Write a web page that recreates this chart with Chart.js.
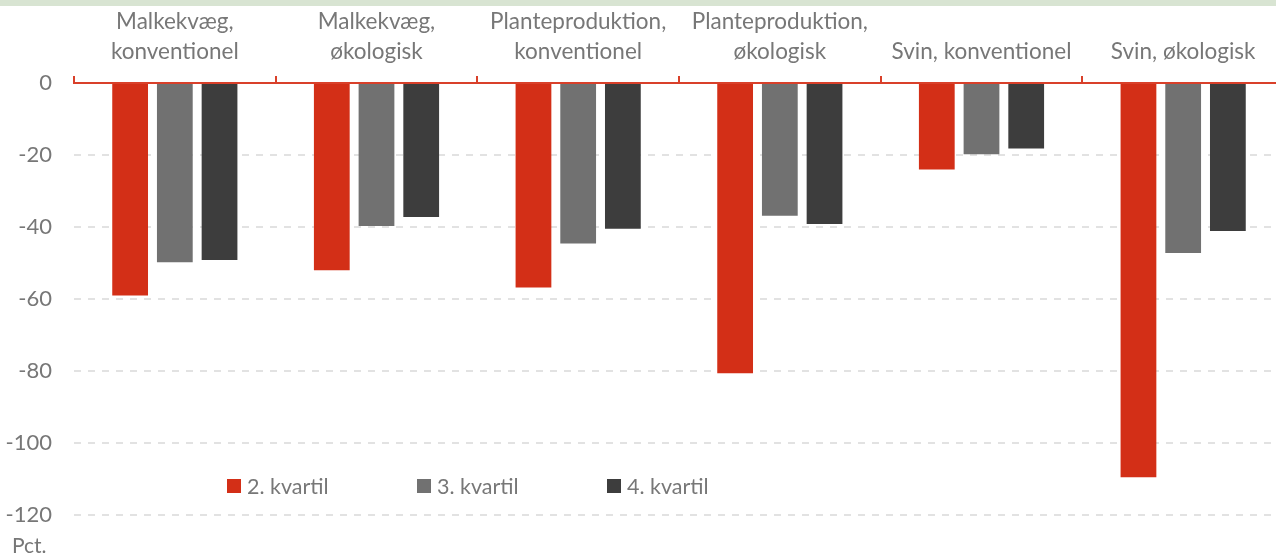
<!DOCTYPE html>
<html lang="da">

<head>
    <meta charset="UTF-8">
    <title>Kvartiler</title>
    <script src="https://cdn.jsdelivr.net/npm/chart.js"></script>

    <style>
        body {
            margin: 0;
            width: 1276px;
            height: 558px;
            overflow: hidden;
            background: #ffffff;
            font-family: "Lato", sans-serif;
            color: #777777;
            position: relative;
        }

        #band {
            position: absolute;
            left: 0;
            top: 0;
            width: 1276px;
            height: 6px;
            background: #d8e4d2;
            z-index: 2;
        }

        #chart-box {
            position: absolute;
            left: 0;
            top: 0;
            width: 1290px;
            height: 558px;
        }

        #legend {
            position: absolute;
            top: 473px;
            left: 227px;
            display: flex;
            font-size: 21.5px;
        }

        #legend .item {
            display: flex;
            align-items: center;
            width: 190px;
        }

        #legend .box {
            width: 14px;
            height: 14px;
            margin-right: 6px;
        }

        #unit {
            position: absolute;
            left: 12px;
            top: 532px;
            font-size: 21px;
        }
    </style>
</head>

<body>
    <div id="band"></div>
    <div id="chart-box">
        <canvas id="chart"></canvas>
    </div>
    <div id="legend"></div>
    <div id="unit">Pct.</div>

    <script>
        const categories = [
            ["Malkekvæg,", "konventionel"],
            ["Malkekvæg,", "økologisk"],
            ["Planteproduktion,", "konventionel"],
            ["Planteproduktion,", "økologisk"],
            "Svin, konventionel",
            "Svin, økologisk"
        ];
        const seriesNames = ["2. kvartil", "3. kvartil", "4. kvartil"];
        const seriesColors = ["#d32f17", "#717171", "#3d3d3d"];

        const kvartil2 = [-59.0, -52.0, -56.8, -80.6, -24.0, -109.5];
        const kvartil3 = [-49.8, -39.7, -44.6, -36.9, -19.8, -47.2];
        const kvartil4 = [-49.2, -37.2, -40.5, -39.2, -18.2, -41.1];

        const yMin = -120;
        const yMax = 0;
        const yStep = 20;

        const axisRed = "#d9402a";
        const textGrey = "#777777";

        const values = [kvartil2, kvartil3, kvartil4];

        const chart = new Chart(document.getElementById("chart"), {
            type: "bar",
            data: {
                labels: categories,
                datasets: values.map((data, i) => ({
                    label: seriesNames[i],
                    data: data,
                    backgroundColor: seriesColors[i],
                    barPercentage: 0.8,
                    categoryPercentage: 0.665
                }))
            },
            options: {
                responsive: true,
                maintainAspectRatio: false,
                animation: false,
                layout: {
                    padding: { top: 0, right: 6, bottom: 43, left: 0 }
                },
                plugins: {
                    legend: { display: false },
                    tooltip: { enabled: false }
                },
                scales: {
                    x: {
                        position: "top",
                        afterFit: (scale) => { scale.height = 83; },
                        grid: {
                            drawOnChartArea: false,
                            drawTicks: true,
                            tickLength: 7,
                            color: axisRed,
                            lineWidth: 2,
                            offset: true
                        },
                        border: { color: axisRed, width: 2 },
                        ticks: {
                            color: textGrey,
                            padding: 10,
                            maxRotation: 0,
                            font: { family: "Lato", size: 22.5, lineHeight: 1.3 }
                        }
                    },
                    y: {
                        min: yMin,
                        max: yMax,
                        afterFit: (scale) => { scale.width = 74; },
                        grid: {
                            drawTicks: false,
                            lineWidth: 2,
                            color: (ctx) => ctx.tick && ctx.tick.value === 0 ? "rgba(0,0,0,0)" : "#e2e2e2"
                        },
                        border: { display: false, dash: [7, 7] },
                        ticks: {
                            stepSize: yStep,
                            color: textGrey,
                            padding: 22,
                            font: { family: "Lato", size: 22 }
                        }
                    }
                }
            }
        });

        // legend built from the chart's own datasets
        const legend = document.getElementById("legend");
        chart.data.datasets.forEach(ds => {
            const item = document.createElement("div");
            item.className = "item";
            const box = document.createElement("span");
            box.className = "box";
            box.style.background = ds.backgroundColor;
            const label = document.createElement("span");
            label.textContent = ds.label;
            item.appendChild(box);
            item.appendChild(label);
            legend.appendChild(item);
        });
    </script>
</body>

</html>
